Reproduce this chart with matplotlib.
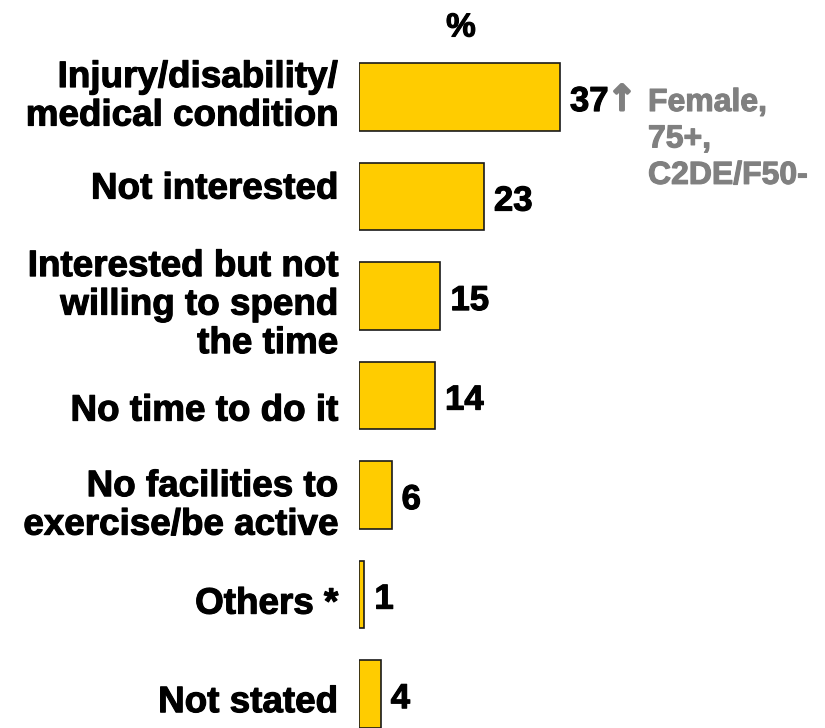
import matplotlib
matplotlib.use("Agg")
import matplotlib.pyplot as plt
import matplotlib.patheffects as pe

plt.rcParams['font.family'] = ['Liberation Sans', 'DejaVu Sans']
plt.rcParams['font.weight'] = 'bold'

# data
categories = ['Injury/disability/\nmedical condition',
              'Not interested',
              'Interested but not\nwilling to spend\nthe time',
              'No time to do it',
              'No facilities to\nexercise/be active',
              'Others *',
              'Not stated']
values = [37, 23, 15, 14, 6, 1, 4]
note_lines = ['Female,', '75+,', 'C2DE/F50-']

# label top relative to bar centre, in pixels (layout only)
label_top = [-37, -25, -47, -2, -26, -8, -9]

W, H = 825, 728
fig = plt.figure(figsize=(W / 100, H / 100), dpi=100)
left = 359 / W
ax = fig.add_axes([left, 0, 1 - left, 1])

pos = list(range(len(values)))
ax.barh(pos, values, height=0.68, color='#FFCC00', edgecolor='#1a1a1a', linewidth=1.2)

ax.set_ylim(6.34, -0.975)
ax.set_xlim(0, 85.8)
ax.set_xticks([])
ax.set_yticks([])
for s in ax.spines.values():
    s.set_visible(False)

heavy = [pe.withStroke(linewidth=0.8, foreground='black')]

for p, lab, dy in zip(pos, categories, label_top):
    ax.annotate(lab, (0, p), xytext=(-21, -dy), textcoords='offset pixels',
                ha='right', va='top', multialignment='right', fontsize=26.5,
                fontweight='bold', linespacing=1.13, annotation_clip=False,
                path_effects=heavy)

for p, v in zip(pos, values):
    ax.annotate(str(v), (v, p), xytext=(10, -14), textcoords='offset pixels',
                ha='left', va='baseline', fontsize=25, fontweight='bold', color='black',
                path_effects=heavy)

# "%" header
fig.text(461 / W, 1 - 28 / H, '%', ha='center', va='center', fontsize=24,
         fontweight='bold', path_effects=heavy)

# highlight note on first bar
grey = '#808080'
fig.text(622 / W, 1 - 100 / H, '\u2191', ha='center', va='center', fontsize=25,
         fontweight='normal', color=grey, family='DejaVu Sans',
         path_effects=[pe.withStroke(linewidth=2.2, foreground=grey)])
fig.text(648 / W, 1 - 88 / H, '\n'.join(note_lines), ha='left', va='top', fontsize=23,
         fontweight='bold', color=grey, linespacing=1.28,
         path_effects=[pe.withStroke(linewidth=0.8, foreground=grey)])

fig.savefig('out.png', dpi=100)
